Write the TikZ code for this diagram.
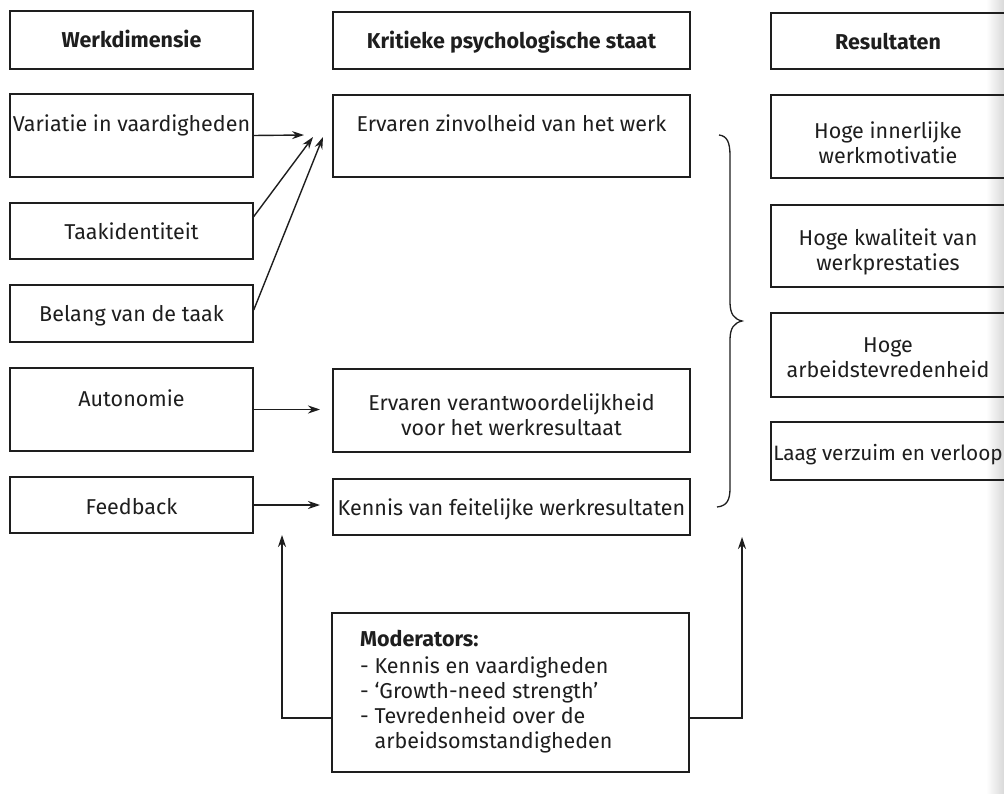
\documentclass[tikz,border=0pt]{standalone}
\usepackage{fontspec}
\setmainfont{Fira Sans}
\usetikzlibrary{arrows.meta,calc}
\definecolor{ink}{HTML}{1E1E1E}

\begin{document}
\begin{tikzpicture}[x=1pt,y=-1pt,
  box/.style={draw=ink, line width=1.4pt, inner sep=0pt},
  lbl/.style={text=ink, inner sep=0pt, font=\fontsize{21.5}{25}\selectfont},
  head/.style={lbl, font=\fontsize{21.5}{25}\selectfont\bfseries},
  two/.style={lbl, align=center},
  arr/.style={draw=ink, line width=1.4pt, -{Stealth[length=12pt,width=8pt]}},
]
% canvas
\fill[white] (0,0) rectangle (1004,794);
\useasboundingbox (0,0) rectangle (1004,794);
\shade[left color=white, right color=black!15] (986,0) rectangle (1004,794);

% ---- left column: job dimensions
\node[box, minimum width=243pt, minimum height=58pt] (wd) at (131.5,40) {};
\node[box, minimum width=243pt, minimum height=83pt] (v)  at (131.5,135.5) {};
\node[box, minimum width=243pt, minimum height=56pt] (t)  at (131.5,231) {};
\node[box, minimum width=243pt, minimum height=57pt] (b)  at (131.5,313.5) {};
\node[box, minimum width=243pt, minimum height=83pt] (a)  at (131.5,409.5) {};
\node[box, minimum width=243pt, minimum height=56pt] (f)  at (131.5,505) {};

\node[head, anchor=base] (wd-t) at (131.5,48)  {Werkdimensie};
\node[lbl,  anchor=base] (v-t)  at (131.5,132) {Variatie in vaardigheden};
\node[lbl,  anchor=base] (t-t)  at (131.5,240) {Taakidentiteit};
\node[lbl,  anchor=base] (b-t)  at (131.5,322) {Belang van de taak};
\node[lbl,  anchor=base] (a-t)  at (131.5,406) {Autonomie};
\node[lbl,  anchor=base] (f-t)  at (131.5,514) {Feedback};

% ---- middle column: critical psychological states
\node[box, minimum width=357pt, minimum height=57pt] (ks) at (511.5,40.5) {};
\node[box, minimum width=357pt, minimum height=82pt] (z)  at (511.5,136) {};
\node[box, minimum width=357pt, minimum height=83pt] (r)  at (511.5,410.5) {};
\node[box, minimum width=357pt, minimum height=56pt] (kf) at (511.5,507) {};

\node[head, anchor=base] (ks-t) at (511.5,49)  {Kritieke psychologische staat};
\node[lbl,  anchor=base] (z-t)  at (511.5,132) {Ervaren zinvolheid van het werk};
\node[two] (r-t) at (511.5,415) {Ervaren verantwoordelijkheid\\voor het werkresultaat};
\node[lbl,  anchor=base] (kf-t) at (511.5,515) {Kennis van feitelijke werkresultaten};

% ---- right column: outcomes
\node[box, minimum width=241pt, minimum height=56pt] (res) at (891.5,41) {};
\node[box, minimum width=241pt, minimum height=83pt] (hi)  at (891.5,136.5) {};
\node[box, minimum width=241pt, minimum height=82pt] (hk)  at (891.5,246) {};
\node[box, minimum width=241pt, minimum height=84pt] (ha)  at (891.5,355) {};
\node[box, minimum width=241pt, minimum height=58pt] (lv)  at (891.5,451) {};

\node[head, anchor=base] (res-t) at (888,50) {Resultaten};
\node[two] (hi-t) at (888,142.5) {Hoge innerlijke\\werkmotivatie};
\node[two] (hk-t) at (888,252)   {Hoge kwaliteit van\\werkprestaties};
\node[two] (ha-t) at (888,358)   {Hoge\\arbeidstevredenheid};
\node[lbl, anchor=base, font=\fontsize{20.8}{25}\selectfont] (lv-t) at (888,460) {Laag verzuim en verloop};

% ---- moderators
\node[box, minimum width=357pt, minimum height=159pt] (m) at (510.5,692.5) {};
\node[lbl, align=left, anchor=north west] (m-t) at (360,630)
  {\textbf{Moderators:}\\[2pt]
   - Kennis en vaardigheden\\
   - ‘Growth-need strength’\\
   - Tevredenheid over de\\
   \phantom{- }arbeidsomstandigheden};

% ---- arrow ends in front of the state boxes
\coordinate (z1) at (304,135);
\coordinate (z2) at (313,137);
\coordinate (z3) at (323,137);
\coordinate (r1) at (320,409.5);
\coordinate (k1) at (320,505);
\coordinate (ml) at (282,535);
\coordinate (mr) at (742,537);

\draw[arr] (v.east) -- (z1);
\draw[arr] ($(t.north east)!0.25!(t.south east)$) -- (z2);
\draw[arr] ($(b.north east)!0.44!(b.south east)$) -- (z3);
\draw[arr] (a.east) -- (r1);
\draw[arr] (f.east) -- (k1);
\draw[arr] ([yshift=-25.5pt]m.west) -| (ml);
\draw[arr] ([yshift=-25.5pt]m.east) -| (mr);

% ---- brace joining the three states to the outcomes
\coordinate (bt) at (719,135);
\coordinate (bm) at (742,321);
\coordinate (bb) at (717,507);
\draw[ink, line width=1.3pt]
  (bt) .. controls (727,136) and (730,142) .. (730,156)
  -- (730,302) .. controls (730,314) and (734,319) .. (bm)
  .. controls (734,323) and (730,328) .. (730,340)
  -- (730,488) .. controls (730,500) and (727,506) .. (bb);
\end{tikzpicture}
\end{document}
